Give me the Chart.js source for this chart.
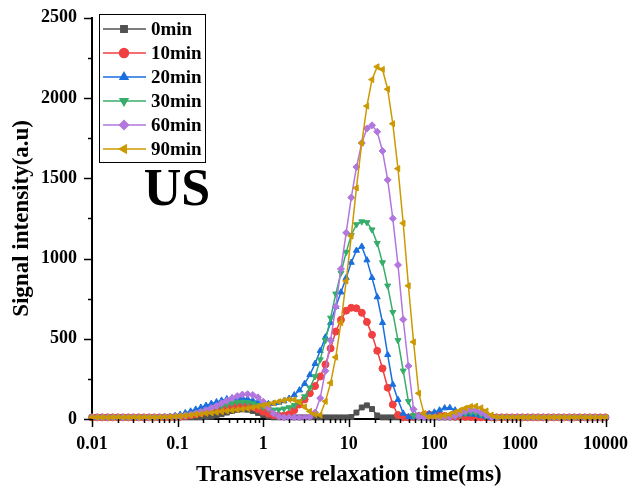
<!DOCTYPE html>
<html>
<head>
<meta charset="utf-8">
<script src="https://cdn.jsdelivr.net/npm/chart.js@4.4.1/dist/chart.umd.min.js"></script>
<style>
  html, body { margin: 0; padding: 0; background: #fff; }
  #wrap { width: 635px; height: 489px; position: relative; }
</style>
</head>
<body>
<div id="wrap"><canvas id="t2Chart"></canvas></div>
<script>
// ── T2 grid (ms), 100 log-spaced points ─────────────────────────
const t2 = [
  0.01, 0.0115, 0.0132, 0.0152, 0.0175, 0.0201, 0.0231, 0.0266, 0.0305, 0.0351,
  0.0404, 0.0464, 0.0534, 0.0614, 0.0705, 0.0811, 0.0933, 0.107, 0.123, 0.142,
  0.163, 0.187, 0.215, 0.248, 0.285, 0.327, 0.376, 0.433, 0.498, 0.572,
  0.658, 0.756, 0.870, 1, 1.15, 1.32, 1.52, 1.75, 2.01, 2.31,
  2.66, 3.05, 3.51, 4.04, 4.64, 5.34, 6.14, 7.05, 8.11, 9.33,
  10.7, 12.3, 14.2, 16.3, 18.7, 21.5, 24.8, 28.5, 32.7, 37.6,
  43.3, 49.8, 57.2, 65.8, 75.6, 87.0, 100, 115, 132, 152,
  175, 201, 231, 266, 305, 351, 404, 464, 534, 614,
  705, 811, 933, 1072, 1233, 1417, 1630, 1874, 2154, 2477,
  2848, 3275, 3765, 4329, 4977, 5722, 6579, 7565, 8697, 10000
];

// ── Signal intensity per treatment time ─────────────────────────
const us0 = [
  10, 10, 10, 10, 10, 10, 10, 10, 10, 10,
  10, 10, 10, 10, 10, 10, 10, 10, 10, 10,
  10, 10, 12, 15, 22, 30, 40, 50, 57, 60,
  58, 50, 38, 25, 15, 10, 10, 10, 10, 10,
  10, 10, 10, 10, 10, 10, 10, 10, 10, 10,
  12, 40, 72, 85, 62, 22, 10, 10, 10, 10,
  10, 10, 10, 10, 10, 10, 10, 10, 10, 10,
  10, 10, 10, 10, 10, 10, 10, 10, 10, 10,
  10, 10, 10, 10, 10, 10, 10, 10, 10, 10,
  10, 10, 10, 10, 10, 10, 10, 10, 10, 10
];
const us10 = [
  10, 10, 10, 10, 10, 10, 10, 10, 10, 10,
  10, 10, 10, 10, 10, 10, 12, 14, 18, 23,
  30, 38, 47, 56, 65, 73, 80, 85, 88, 88,
  84, 75, 60, 45, 32, 24, 20, 22, 30, 55,
  90, 122, 160, 205, 265, 340, 440, 545, 618, 675,
  693, 690, 662, 605, 525, 425, 315, 195, 90, 25,
  10, 10, 12, 18, 25, 28, 26, 22, 18, 15,
  14, 14, 13, 12, 10, 10, 10, 10, 10, 10,
  10, 10, 10, 10, 10, 10, 10, 10, 10, 10,
  10, 10, 10, 10, 10, 10, 10, 10, 10, 10
];
const us20 = [
  10, 10, 10, 10, 10, 10, 10, 10, 10, 10,
  10, 10, 10, 10, 12, 15, 20, 28, 38, 48,
  60, 72, 84, 96, 106, 116, 125, 130, 132, 130,
  125, 116, 106, 98, 95, 96, 102, 112, 128, 150,
  180, 220, 275, 345, 425, 510, 600, 700, 790, 880,
  975, 1050, 1075, 990, 880, 760, 600, 400, 215, 120,
  35, 12, 12, 18, 25, 32, 42, 55, 68, 70,
  55, 40, 32, 30, 28, 20, 12, 10, 10, 10,
  10, 10, 10, 10, 10, 10, 10, 10, 10, 10,
  10, 10, 10, 10, 10, 10, 10, 10, 10, 10
];
const us30 = [
  10, 10, 10, 10, 10, 10, 10, 10, 10, 10,
  10, 10, 10, 10, 10, 10, 12, 15, 20, 27,
  35, 44, 53, 62, 72, 82, 91, 99, 104, 106,
  104, 97, 86, 74, 63, 57, 58, 64, 72, 85,
  108, 140, 195, 265, 370, 490, 630, 780, 910, 1040,
  1145, 1212, 1230, 1225, 1180, 1095, 975, 830, 665, 490,
  300, 110, 22, 10, 10, 10, 10, 10, 10, 12,
  16, 25, 34, 40, 38, 28, 16, 10, 10, 10,
  10, 10, 10, 10, 10, 10, 10, 10, 10, 10,
  10, 10, 10, 10, 10, 10, 10, 10, 10, 10
];
const us60 = [
  10, 10, 10, 10, 10, 10, 10, 10, 10, 10,
  10, 10, 10, 10, 11, 12, 14, 17, 22, 28,
  35, 44, 55, 68, 82, 98, 114, 130, 143, 152,
  155, 150, 135, 108, 70, 35, 15, 10, 10, 10,
  10, 10, 12, 40, 130, 300, 490, 700, 935, 1160,
  1380, 1570, 1720, 1810, 1830, 1790, 1670, 1490, 1250, 960,
  620, 330, 60, 15, 10, 10, 10, 10, 10, 12,
  20, 35, 50, 58, 55, 42, 25, 12, 10, 10,
  10, 10, 10, 10, 10, 10, 10, 10, 10, 10,
  10, 10, 10, 10, 10, 10, 10, 10, 10, 10
];
const us90 = [
  10, 10, 10, 10, 10, 10, 10, 10, 10, 10,
  10, 10, 10, 10, 11, 13, 15, 18, 21, 24,
  28, 31, 35, 38, 42, 46, 50, 54, 58, 62,
  66, 72, 78, 85, 92, 100, 108, 116, 122, 120,
  105, 75, 48, 28, 25, 110, 225, 385, 600, 860,
  1140, 1440, 1720, 1950, 2115, 2195, 2178, 2055, 1840, 1560,
  1220, 830, 480, 160, 35, 12, 14, 17, 22, 30,
  42, 55, 68, 78, 80, 70, 50, 25, 12, 10,
  10, 10, 10, 10, 10, 10, 10, 10, 10, 10,
  10, 10, 10, 10, 10, 10, 10, 10, 10, 10
];

const seriesNames = ['0min', '10min', '20min', '30min', '60min', '90min'];
const seriesData = [us0, us10, us20, us30, us60, us90];
const xTicks = [0.01, 0.1, 1, 10, 100, 1000, 10000];
const yTicks = [0, 500, 1000, 1500, 2000, 2500];

const colors = ['#515151', '#F14040', '#1A6FDF', '#37AD6B', '#B177DE', '#CC9900'];
const markers = [
  { style: 'rect', rot: 0 },
  { style: 'circle', rot: 0 },
  { style: 'triangle', rot: 0 },
  { style: 'triangle', rot: 180 },
  { style: 'rectRot', rot: 0 },
  { style: 'triangle', rot: 270 },
];

const serif = '"Liberation Serif", "Times New Roman", serif';

// ── Axis ticks, legend box and panel label ──────────────────────
const decorations = {
  id: 'decorations',
  afterDraw(chart) {
    const { ctx, chartArea: a, scales: { x, y } } = chart;
    ctx.save();
    ctx.strokeStyle = '#000';
    ctx.lineWidth = 1.5;

    // x ticks: major at decades, minor at 2..9
    for (let j = 0; j < xTicks.length; j++) {
      const d = xTicks[j];
      const px = Math.round(x.getPixelForValue(d)) + 0.5;
      ctx.beginPath(); ctx.moveTo(px, a.bottom); ctx.lineTo(px, a.bottom + 8); ctx.stroke();
      if (j < xTicks.length - 1) {
        for (let m = 2; m <= 9; m++) {
          const mx = Math.round(x.getPixelForValue(d * m)) + 0.5;
          ctx.beginPath(); ctx.moveTo(mx, a.bottom); ctx.lineTo(mx, a.bottom + 4); ctx.stroke();
        }
      }
    }
    // y ticks: major every 500, minor halfway
    for (let j = 0; j < yTicks.length; j++) {
      const py = Math.round(y.getPixelForValue(yTicks[j])) + 0.5;
      ctx.beginPath(); ctx.moveTo(a.left, py); ctx.lineTo(a.left - 8, py); ctx.stroke();
      if (j < yTicks.length - 1) {
        const my = Math.round(y.getPixelForValue((yTicks[j] + yTicks[j + 1]) / 2)) + 0.5;
        ctx.beginPath(); ctx.moveTo(a.left, my); ctx.lineTo(a.left - 4, my); ctx.stroke();
      }
    }

    // legend
    const lx = 99.5, ly = 14.5, lw = 106, lh = 148;
    ctx.fillStyle = '#fff';
    ctx.fillRect(lx, ly, lw, lh);
    ctx.lineWidth = 1;
    ctx.strokeRect(lx, ly, lw, lh);
    ctx.font = 'bold 19px ' + serif;
    ctx.textBaseline = 'middle';
    ctx.textAlign = 'left';
    chart.data.datasets.forEach((ds, i) => {
      const ry = 29 + i * 24;
      ctx.strokeStyle = ds.borderColor;
      ctx.lineWidth = 1.5;
      ctx.beginPath(); ctx.moveTo(103, ry); ctx.lineTo(146, ry); ctx.stroke();
      ctx.fillStyle = ds.borderColor;
      Chart.helpers.drawPoint(ctx, {
        pointStyle: ds.pointStyle, rotation: ds.pointRotation,
        radius: 4.5, borderWidth: 1
      }, 124, ry);
      ctx.fillStyle = '#000';
      ctx.fillText(ds.label, 151, ry + 1);
    });

    // panel label
    ctx.fillStyle = '#000';
    ctx.font = 'bold 52px ' + serif;
    ctx.textAlign = 'center';
    ctx.textBaseline = 'alphabetic';
    ctx.fillText('US', 177, 205);
    ctx.restore();
  }
};

new Chart(document.getElementById('t2Chart'), {
  type: 'line',
  data: {
    datasets: seriesData.map((vals, i) => ({
      label: seriesNames[i],
      data: t2.map((t, k) => ({ x: t, y: vals[k] })),
      borderColor: colors[i],
      backgroundColor: colors[i],
      pointBackgroundColor: colors[i],
      pointBorderColor: colors[i],
      pointStyle: markers[i].style,
      pointRotation: markers[i].rot,
      pointRadius: 3.5,
      pointBorderWidth: 1,
      borderWidth: 1.5,
      tension: 0,
      clip: 8,
      order: seriesData.length - i,
    }))
  },
  options: {
    responsive: true,
    maintainAspectRatio: false,
    animation: false,
    devicePixelRatio: 1,
    layout: { padding: { top: 16, right: 25, left: 0, bottom: 0 } },
    plugins: {
      legend: { display: false },
      tooltip: { enabled: false },
    },
    scales: {
      x: {
        type: 'logarithmic',
        min: 0.01,
        max: 10000,
        afterBuildTicks: s => { s.ticks = xTicks.map(v => ({ value: v })); },
        afterFit: s => { s.height = 70; },
        border: { display: true, color: '#000', width: 2 },
        grid: { drawOnChartArea: false, drawTicks: true, tickLength: 8, color: 'rgba(0,0,0,0)' },
        ticks: {
          autoSkip: false, maxRotation: 0, padding: 7,
          color: '#000', font: { family: serif, size: 18, weight: 'bold' },
          callback: v => String(v),
        },
        title: {
          display: true, text: 'Transverse relaxation time(ms)', color: '#000',
          font: { family: serif, size: 23, weight: 'bold' },
          padding: { top: 0, bottom: 0 },
        },
      },
      y: {
        min: 0,
        max: 2500,
        afterBuildTicks: s => { s.ticks = yTicks.map(v => ({ value: v })); },
        afterFit: s => { s.width = 92; },
        border: { display: true, color: '#000', width: 2 },
        grid: { drawOnChartArea: false, drawTicks: true, tickLength: 8, color: 'rgba(0,0,0,0)' },
        ticks: {
          padding: 7, color: '#000',
          font: { family: serif, size: 18, weight: 'bold' },
          callback: v => String(v),
        },
        title: {
          display: true, text: 'Signal intensity(a.u)', color: '#000',
          font: { family: serif, size: 23, weight: 'bold' },
          padding: { top: 8, bottom: 0 },
        },
      },
    },
  },
  plugins: [decorations],
});
</script>
</body>
</html>
